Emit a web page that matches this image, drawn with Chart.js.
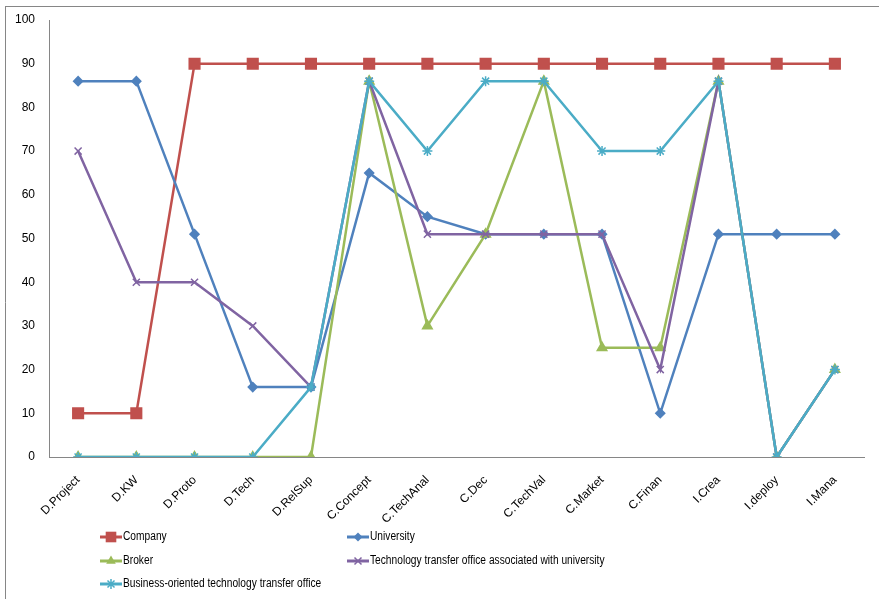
<!DOCTYPE html>
<html>
<head>
<meta charset="utf-8">
<script src="https://cdn.jsdelivr.net/npm/chart.js@4/dist/chart.umd.min.js"></script>
<style>
  html, body { margin: 0; padding: 0; background: #fff; }
</style>
</head>
<body>
<canvas id="chart" width="879" height="599"></canvas>
<script>
const categories = ["D.Project", "D.KW", "D.Proto", "D.Tech", "D.RelSup", "C.Concept", "C.TechAnal",
  "C.Dec", "C.TechVal", "C.Market", "C.Finan", "I.Crea", "I.deploy", "I.Mana"];
const yTicks = [0, 10, 20, 30, 40, 50, 60, 70, 80, 90, 100];

const company    = [10, 10, 90, 90, 90, 90, 90, 90, 90, 90, 90, 90, 90, 90];
const university = [86, 86, 51, 16, 16, 65, 55, 51, 51, 51, 10, 51, 51, 51];
const broker     = [0, 0, 0, 0, 0, 86, 30, 51, 86, 25, 25, 86, 0, 20];
const ttoUniv    = [70, 40, 40, 30, 16, 86, 51, 51, 51, 51, 20, 86, 0, 20];
const ttoBiz     = [0, 0, 0, 0, 16, 86, 70, 86, 86, 70, 70, 86, 0, 20];

const AXIS = "#868686";
const FONT = "'Liberation Sans', Arial, sans-serif";

function series(label, data, color, style, radius, order) {
  return {
    label, data, order,
    borderColor: color,
    backgroundColor: color,
    borderWidth: 2.5,
    pointStyle: style,
    pointRadius: radius,
    pointHoverRadius: radius,
    pointBorderWidth: 1.5,
    tension: 0,
  };
}

const datasets = [
  series("Company", company, "#C0504D", "rect", 7.5, 5),
  series("University", university, "#4F81BD", "rectRot", 4.5, 4),
  series("Broker", broker, "#9BBB59", "triangle", 5.5, 3),
  series("Technology transfer office associated with university", ttoUniv, "#8064A2", "crossRot", 5, 2),
  series("Business-oriented technology transfer office", ttoBiz, "#4BACC6", "star", 5, 1),
];

// frame lines (left + top) like the original chart box
const frame = {
  id: "frame",
  beforeDraw(chart) {
    const c = chart.ctx;
    c.save();
    c.fillStyle = "#fff";
    c.fillRect(0, 0, chart.width, chart.height);
    c.strokeStyle = AXIS;
    c.lineWidth = 1;
    c.beginPath();
    c.moveTo(5.5, 6);
    c.lineTo(5.5, chart.height);
    c.moveTo(5, 6.5);
    c.lineTo(chart.width, 6.5);
    c.stroke();
    c.restore();
  }
};

function marker(c, style, x, y, r, color) {
  c.save();
  c.fillStyle = color;
  c.strokeStyle = color;
  c.lineWidth = 1.5;
  c.beginPath();
  if (style === "rect") {
    const s = r / Math.SQRT2;
    c.fillRect(x - s, y - s, 2 * s, 2 * s);
  } else if (style === "rectRot") {
    c.moveTo(x, y - r); c.lineTo(x + r, y); c.lineTo(x, y + r); c.lineTo(x - r, y); c.closePath(); c.fill();
  } else if (style === "triangle") {
    c.moveTo(x, y - r); c.lineTo(x + r * 0.87, y + r * 0.5); c.lineTo(x - r * 0.87, y + r * 0.5); c.closePath(); c.fill();
  } else if (style === "crossRot") {
    const d = r * 0.7;
    c.moveTo(x - d, y - d); c.lineTo(x + d, y + d); c.moveTo(x + d, y - d); c.lineTo(x - d, y + d); c.stroke();
  } else {
    const d = r * 0.7;
    c.moveTo(x - d, y - d); c.lineTo(x + d, y + d); c.moveTo(x + d, y - d); c.lineTo(x - d, y + d);
    c.moveTo(x, y - r); c.lineTo(x, y + r); c.stroke();
  }
  c.restore();
}

// two-column legend under the plot
const legendCols = [100, 347];
const legendRows = [537, 561, 584];
const gridLegend = {
  id: "gridLegend",
  afterDraw(chart) {
    const c = chart.ctx;
    chart.data.datasets.forEach((ds, i) => {
      const x = legendCols[i % 2];
      const y = legendRows[Math.floor(i / 2)];
      c.save();
      c.strokeStyle = ds.borderColor;
      c.lineWidth = 3;
      c.beginPath();
      c.moveTo(x, y);
      c.lineTo(x + 22, y);
      c.stroke();
      marker(c, ds.pointStyle, x + 11, y, ds.pointRadius, ds.borderColor);
      // narrower text, the original uses a condensed font
      c.translate(x + 23, y);
      c.scale(0.85, 1);
      c.fillStyle = "#000";
      c.font = "12px " + FONT;
      c.textBaseline = "middle";
      c.fillText(ds.label, 0, 0);
      c.restore();
    });
  }
};

new Chart(document.getElementById("chart"), {
  type: "line",
  data: { labels: categories, datasets },
  plugins: [frame, gridLegend],
  options: {
    responsive: false,
    animation: false,
    layout: { padding: { top: 20, right: 15, left: 0, bottom: 0 } },
    plugins: { legend: { display: false }, tooltip: { enabled: false } },
    scales: {
      x: {
        offset: true,
        grid: { display: false },
        border: { display: true, color: AXIS, width: 1 },
        ticks: { color: "#000", font: { family: FONT, size: 12 }, minRotation: 45, maxRotation: 45, padding: 8, autoSkip: false },
        afterFit: (s) => { s.height = 142; },
      },
      y: {
        min: 0, max: 100,
        grid: { display: false },
        border: { display: true, color: AXIS, width: 1 },
        afterBuildTicks: (s) => { s.ticks = yTicks.map((v) => ({ value: v })); },
        ticks: { color: "#000", font: { family: FONT, size: 12 }, padding: 6 },
        afterFit: (s) => { s.width = 49; },
      },
    },
  },
});
</script>
</body>
</html>
